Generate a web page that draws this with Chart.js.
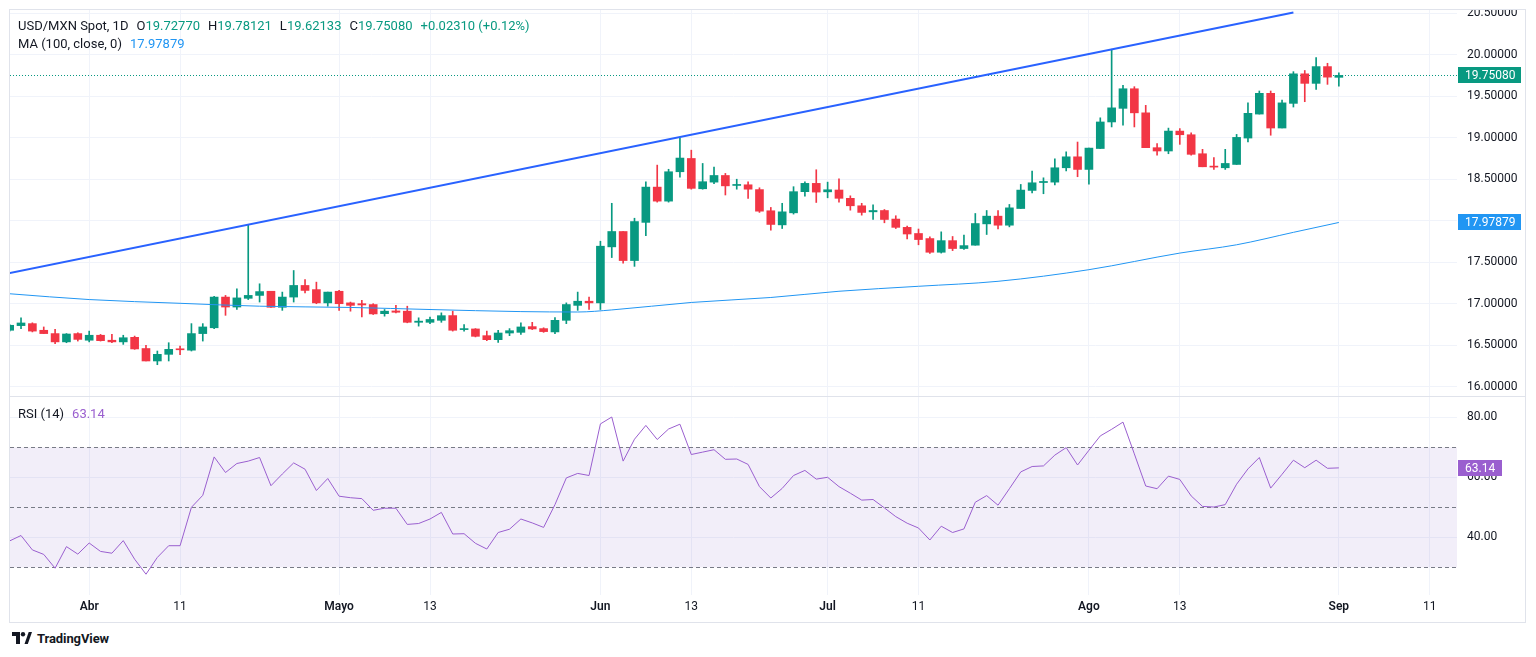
<!DOCTYPE html>
<html>
<head>
<meta charset="utf-8">
<title>USD/MXN Spot, 1D</title>
<script src="https://cdn.jsdelivr.net/npm/chart.js@4.4.1/dist/chart.umd.min.js"></script>
<style>
  html, body { margin: 0; padding: 0; background: #fff; }
  body { width: 1536px; height: 657px; position: relative; overflow: hidden; font-family: Roboto, "Noto Sans", sans-serif; color: #131722; }
  #frame { position: absolute; left: 9px; top: 9px; width: 1517px; height: 614px; border: 1px solid #e0e3eb; box-sizing: border-box; }
  #pricebox { position: absolute; left: 10px; top: 10px; width: 1515px; height: 386px; }
  #sep { position: absolute; left: 10px; top: 396px; width: 1515px; height: 1px; background: #e0e3eb; }
  #rsibox { position: absolute; left: 10px; top: 397px; width: 1515px; height: 225px; }
  canvas { display: block; }
  .leg { position: absolute; left: 18px; font-size: 13px; line-height: 18px; white-space: nowrap; z-index: 5; }
  .leg span { margin-right: 8px; }
  .leg span.k { margin-right: 0; }
  .g { color: #089981; }
  .b { color: #2196F3; }
  .p { color: #9a5fcf; }
  #logo { position: absolute; left: 12px; top: 631px; height: 14px; display: flex; align-items: center; }
  #logo b { font-size: 13px; font-weight: 700; margin-left: 5px; letter-spacing: -0.1px; }
</style>
</head>
<body>
<div id="frame"></div>
<div id="pricebox"><canvas id="price" width="1515" height="386" style="width:1515px;height:386px"></canvas></div>
<div id="sep"></div>
<div id="rsibox"><canvas id="rsi" width="1515" height="225" style="width:1515px;height:225px"></canvas></div>

<div class="leg" style="top:17px">
  <span>USD/MXN Spot, 1D</span><span class="k">O</span><span class="g">19.72770</span><span class="k">H</span><span class="g">19.78121</span><span class="k">L</span><span class="g">19.62133</span><span class="k">C</span><span class="g">19.75080</span><span class="g">+0.02310 (+0.12%)</span>
</div>
<div class="leg" style="top:35px"><span>MA (100, close, 0)</span><span class="b">17.97879</span></div>
<div class="leg" style="top:405px"><span>RSI (14)</span><span class="p">63.14</span></div>

<div id="logo">
  <svg width="20" height="12" viewBox="0 0 20 12">
    <path d="M0 0h8v12h-4v-8h-4z" fill="#131722"/>
    <circle cx="11" cy="2.2" r="2.2" fill="#131722"/>
    <path d="M12.5 12l4.2-12h3.3l-4.2 12z" fill="#131722"/>
  </svg>
  <b>TradingView</b>
</div>

<script>
// daily candles, index 0 = 21 Mar 2024 ... index 117 = 2 Sep 2024
const open = [
  16.68, 16.736, 16.76, 16.68, 16.64, 16.54, 16.64, 16.56, 16.62, 16.56,
  16.54, 16.595, 16.46, 16.31, 16.39, 16.455, 16.44, 16.64, 16.71, 17.08,
  16.96, 17.065, 17.10, 17.15, 16.957, 17.08, 17.22, 17.17, 17.01, 17.15,
  17.01, 17.00, 16.99, 16.88, 16.913, 16.91, 16.776, 16.776, 16.80, 16.857,
  16.688, 16.696, 16.615, 16.567, 16.647, 16.655, 16.724, 16.70, 16.66, 16.80,
  16.98, 17.03, 17.01, 17.685, 17.87, 17.52, 17.98, 18.405, 18.236, 18.59,
  18.75, 18.385, 18.465, 18.545, 18.425, 18.433, 18.375, 18.12, 17.95, 18.095,
  18.35, 18.45, 18.348, 18.37, 18.27, 18.18, 18.107, 18.123, 18.02, 17.92,
  17.846, 17.785, 17.62, 17.76, 17.665, 17.705, 17.962, 18.055, 17.946, 18.147,
  18.365, 18.46, 18.465, 18.638, 18.77, 18.618, 18.87, 19.19, 19.354, 19.59,
  19.30, 18.88, 18.84, 19.08, 19.036, 18.807, 18.658, 18.638, 18.678, 18.996,
  19.285, 19.535, 19.117, 19.414, 19.77, 19.655, 19.857, 19.7277
];
const high = [
  16.75, 16.83, 16.77, 16.72, 16.69, 16.64, 16.65, 16.67, 16.63, 16.63,
  16.62, 16.61, 16.50, 16.43, 16.53, 16.49, 16.76, 16.76, 17.09, 17.10,
  17.18, 17.954, 17.24, 17.15, 17.14, 17.40, 17.29, 17.26, 17.14, 17.16,
  17.02, 17.04, 17.00, 16.93, 16.98, 16.97, 16.83, 16.84, 16.89, 16.91,
  16.75, 16.70, 16.67, 16.68, 16.70, 16.77, 16.776, 16.71, 16.832, 17.01,
  17.14, 17.08, 17.753, 18.21, 17.87, 18.03, 18.47, 18.67, 18.62, 19.00,
  18.85, 18.69, 18.646, 18.57, 18.50, 18.47, 18.397, 18.16, 18.21, 18.41,
  18.47, 18.614, 18.465, 18.505, 18.30, 18.21, 18.19, 18.135, 18.06, 17.934,
  17.90, 17.806, 17.866, 17.81, 17.826, 18.087, 18.123, 18.123, 18.196, 18.437,
  18.598, 18.517, 18.747, 18.83, 18.948, 18.875, 19.24, 20.066, 19.63, 19.615,
  19.39, 18.93, 19.116, 19.11, 19.06, 18.86, 18.76, 18.86, 19.04, 19.42,
  19.563, 19.563, 19.454, 19.796, 19.81, 19.965, 19.897, 19.78121
];
const low = [
  16.67, 16.70, 16.66, 16.64, 16.52, 16.53, 16.55, 16.54, 16.55, 16.53,
  16.51, 16.45, 16.31, 16.265, 16.31, 16.385, 16.43, 16.55, 16.70, 16.86,
  16.93, 17.05, 17.02, 16.955, 16.92, 17.02, 17.13, 17.00, 16.97, 16.92,
  16.91, 16.84, 16.87, 16.85, 16.89, 16.77, 16.73, 16.76, 16.776, 16.67,
  16.67, 16.60, 16.555, 16.535, 16.615, 16.63, 16.688, 16.655, 16.64, 16.76,
  16.92, 16.93, 16.93, 17.556, 17.49, 17.45, 17.82, 18.224, 18.224, 18.525,
  18.38, 18.38, 18.445, 18.31, 18.38, 18.27, 18.10, 17.886, 17.906, 18.08,
  18.296, 18.22, 18.276, 18.224, 18.127, 18.067, 18.015, 17.975, 17.906, 17.78,
  17.71, 17.605, 17.61, 17.64, 17.653, 17.705, 17.834, 17.90, 17.926, 18.147,
  18.336, 18.325, 18.43, 18.60, 18.53, 18.44, 18.87, 19.13, 19.15, 19.13,
  18.88, 18.79, 18.807, 18.92, 18.79, 18.65, 18.618, 18.618, 18.678, 18.948,
  19.285, 19.03, 19.117, 19.37, 19.434, 19.583, 19.643, 19.62133
];
const close = [
  16.74, 16.768, 16.67, 16.64, 16.54, 16.635, 16.57, 16.62, 16.555, 16.54,
  16.59, 16.455, 16.31, 16.39, 16.45, 16.445, 16.64, 16.72, 17.08, 16.96,
  17.07, 17.10, 17.146, 16.957, 17.08, 17.22, 17.16, 17.01, 17.14, 17.00,
  16.98, 16.985, 16.877, 16.91, 16.897, 16.776, 16.79, 16.81, 16.856, 16.68,
  16.70, 16.607, 16.567, 16.647, 16.675, 16.72, 16.696, 16.664, 16.80, 16.99,
  17.03, 17.01, 17.693, 17.87, 17.52, 17.99, 18.405, 18.236, 18.59, 18.755,
  18.39, 18.47, 18.545, 18.42, 18.437, 18.38, 18.115, 17.955, 18.107, 18.35,
  18.45, 18.345, 18.373, 18.27, 18.18, 18.10, 18.123, 18.015, 17.92, 17.84,
  17.773, 17.62, 17.76, 17.665, 17.70, 17.966, 18.055, 17.946, 18.155, 18.369,
  18.457, 18.473, 18.638, 18.77, 18.618, 18.875, 19.19, 19.36, 19.59, 19.30,
  18.88, 18.84, 19.08, 19.036, 18.80, 18.65, 18.646, 18.69, 19.004, 19.294,
  19.535, 19.117, 19.42, 19.77, 19.655, 19.857, 19.73, 19.7508
];

// MA(100) read at a handful of bars
const maIdx = [0, 7, 15, 22, 30, 37, 45, 50, 53, 60, 67, 73, 80, 87, 95, 103, 108, 113, 117];
const maVal = [17.12, 17.05, 17.005, 16.97, 16.955, 16.93, 16.905, 16.90, 16.925, 17.015, 17.075, 17.15, 17.21, 17.27, 17.41, 17.61, 17.71, 17.86, 17.97879];

// drawn trend line (two anchors)
const trendIdx = [0, 113];
const trendVal = [17.37, 20.51];

const rsi = [
  38.8, 40.6, 35.8, 34.3, 29.7, 36.9, 34.4, 38.1, 35.3, 34.7,
  38.9, 32.7, 27.7, 33.3, 37.2, 37.2, 50.0, 54.0, 66.8, 61.6,
  64.6, 65.4, 66.6, 57.2, 61.1, 64.8, 62.7, 55.6, 59.6, 53.7,
  53.2, 52.9, 49.0, 49.7, 49.7, 44.3, 44.6, 46.1, 48.3, 41.1,
  41.2, 38.0, 36.1, 41.6, 42.7, 46.1, 44.8, 43.3, 50.9, 59.8,
  61.3, 60.6, 77.8, 80.1, 65.4, 72.7, 77.3, 72.6, 76.1, 77.7,
  67.6, 68.4, 69.2, 66.0, 66.1, 64.3, 56.9, 53.1, 56.3, 60.6,
  62.3, 59.4, 60.0, 56.9, 54.7, 52.4, 52.6, 49.8, 46.9, 44.7,
  43.1, 39.1, 43.7, 41.6, 42.8, 51.7, 53.9, 50.7, 56.2, 61.8,
  63.6, 63.8, 67.4, 69.9, 64.1, 69.0, 73.8, 76.0, 78.4, 67.8,
  57.1, 56.2, 60.4, 59.3, 53.8, 50.3, 50.1, 50.9, 57.7, 62.8,
  66.6, 56.4, 61.0, 65.7, 63.2, 65.7, 63.0, 63.14
];

// time axis
const tickIdx  = [7, 15, 29, 37, 52, 60, 72, 80, 95, 103, 117, 125];
const tickText = ['Abr', '11', 'Mayo', '13', 'Jun', '13', 'Jul', '11', 'Ago', '13', 'Sep', '11'];
const tickMonth = [true, false, true, false, true, false, true, false, true, false, true, false];

const priceTicks = [16, 16.5, 17, 17.5, 18, 18.5, 19, 19.5, 20, 20.5];
const rsiTicks = [40, 60, 80];
const rsiBands = [70, 50, 30];

const UP = '#089981', DOWN = '#F23645';
const RSI_COLOR = '#9a5fcf';
const GRID = '#f0f3fa';
const FONT = 'Roboto, "Noto Sans", sans-serif';
const X_MIN = 0.03, X_MAX = 127.4;
const AXIS_W = 68;

const candleColor = (i) => close[i] >= open[i] ? UP : DOWN;
const bars = close.map((_, i) => i);
const lastIdx = close.length - 1;

function xScale(showTicks) {
  return {
    type: 'linear', min: X_MIN, max: X_MAX, offset: false,
    grid: { color: GRID, offset: false, drawTicks: false },
    border: { display: false },
    afterBuildTicks: s => { s.ticks = tickIdx.map(v => ({ value: v })); },
    afterFit: s => {
      s.height = showTicks ? 27 : 0;
      s.paddingLeft = 0; s.paddingRight = 0;
    },
    ticks: {
      display: showTicks, autoSkip: false, maxRotation: 0, padding: 5, color: '#131722',
      font: ctx => ({ family: FONT, size: 12, weight: tickMonth[ctx.index] ? '600' : '400' }),
      callback: (v, i) => tickText[i]
    }
  };
}

function yScale(min, max, ticks, digits) {
  return {
    position: 'right', min: min, max: max,
    grid: { color: GRID, drawTicks: false },
    border: { display: false },
    afterBuildTicks: s => { s.ticks = ticks.map(v => ({ value: v })); },
    afterFit: s => { s.width = AXIS_W; s.paddingTop = 0; s.paddingBottom = 0; },
    ticks: { padding: 10, color: '#131722', font: { family: FONT, size: 12 }, callback: v => v.toFixed(digits) }
  };
}

function axisTag(ctx, area, y, text, bg, w) {
  ctx.save();
  ctx.fillStyle = bg;
  ctx.fillRect(area.right + 1, Math.round(y) - 8, w, 16);
  ctx.fillStyle = '#ffffff';
  ctx.font = '12px ' + FONT;
  ctx.textBaseline = 'middle';
  ctx.textAlign = 'left';
  ctx.fillText(text, area.right + 8, Math.round(y) + 0.5);
  ctx.restore();
}

const priceOverlay = {
  id: 'priceOverlay',
  beforeDatasetsDraw(chart) {
    const { ctx, chartArea: a, scales } = chart;
    const y = Math.round(scales.y.getPixelForValue(close[lastIdx])) + 0.5;
    ctx.save();
    ctx.strokeStyle = UP;
    ctx.lineWidth = 1;
    ctx.setLineDash([1, 2]);
    ctx.beginPath();
    ctx.moveTo(a.left, y);
    ctx.lineTo(a.right, y);
    ctx.stroke();
    ctx.restore();
  },
  afterDraw(chart) {
    const { ctx, chartArea: a, scales } = chart;
    axisTag(ctx, a, scales.y.getPixelForValue(close[lastIdx]), close[lastIdx].toFixed(5), UP, 63);
    axisTag(ctx, a, scales.y.getPixelForValue(maVal[maVal.length - 1]), maVal[maVal.length - 1].toFixed(5), '#2196F3', 63);
  }
};

const rsiOverlay = {
  id: 'rsiOverlay',
  beforeDatasetsDraw(chart) {
    const { ctx, chartArea: a, scales } = chart;
    const yTop = scales.y.getPixelForValue(rsiBands[0]);
    const yBot = scales.y.getPixelForValue(rsiBands[2]);
    ctx.save();
    ctx.fillStyle = 'rgba(126, 87, 194, 0.1)';
    ctx.fillRect(a.left, yTop, a.right - a.left, yBot - yTop);
    ctx.strokeStyle = '#787B86';
    ctx.lineWidth = 1;
    ctx.setLineDash([4, 3]);
    rsiBands.forEach(v => {
      const y = Math.round(scales.y.getPixelForValue(v)) + 0.5;
      ctx.beginPath();
      ctx.moveTo(a.left, y);
      ctx.lineTo(a.right, y);
      ctx.stroke();
    });
    ctx.restore();
  },
  afterDraw(chart) {
    const { ctx, chartArea: a, scales } = chart;
    axisTag(ctx, a, scales.y.getPixelForValue(rsi[lastIdx]), rsi[lastIdx].toFixed(2), RSI_COLOR, 44);
  }
};

const base = {
  responsive: false,
  animation: false,
  events: [],
  layout: { padding: 0 },
  plugins: { legend: { display: false }, tooltip: { enabled: false } }
};

new Chart(document.getElementById('price'), {
  type: 'bar',
  data: {
    datasets: [
      {
        type: 'line', label: 'trend', order: 0,
        data: trendIdx.map((x, k) => ({ x: x, y: trendVal[k] })),
        borderColor: '#2962FF', borderWidth: 2, pointRadius: 0
      },
      {
        type: 'line', label: 'MA 100', order: 1,
        data: maIdx.map((x, k) => ({ x: x, y: maVal[k] })),
        borderColor: '#2196F3', borderWidth: 1, pointRadius: 0, cubicInterpolationMode: 'monotone'
      },
      {
        label: 'body', order: 2, grouped: false,
        data: bars.map(i => ({ x: i, y: [open[i], close[i]] })),
        backgroundColor: ctx => candleColor(ctx.dataIndex),
        barThickness: 8, minBarLength: 1
      },
      {
        label: 'wick', order: 3, grouped: false,
        data: bars.map(i => ({ x: i, y: [low[i], high[i]] })),
        backgroundColor: ctx => candleColor(ctx.dataIndex),
        barThickness: 1
      }
    ]
  },
  options: Object.assign({}, base, {
    scales: { x: xScale(false), y: yScale(15.888, 20.539, priceTicks, 5) }
  }),
  plugins: [priceOverlay]
});

new Chart(document.getElementById('rsi'), {
  type: 'line',
  data: {
    datasets: [{
      label: 'RSI 14',
      data: rsi.map((v, i) => ({ x: i, y: v })),
      borderColor: RSI_COLOR, borderWidth: 1, pointRadius: 0, tension: 0
    }]
  },
  options: Object.assign({}, base, {
    scales: { x: xScale(true), y: yScale(20.77, 86.77, rsiTicks, 2) }
  }),
  plugins: [rsiOverlay]
});
</script>
</body>
</html>
